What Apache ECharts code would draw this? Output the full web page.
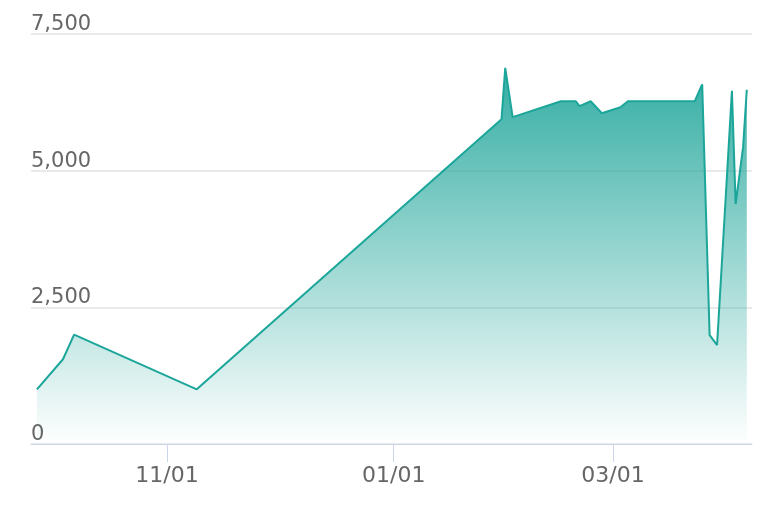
<!DOCTYPE html>
<html>
<head>
<meta charset="utf-8">
<script src="https://cdn.jsdelivr.net/npm/echarts@6/dist/echarts.min.js"></script>
<style>
html,body{margin:0;padding:0;background:#fff;}
#chart{width:778px;height:514px;}
</style>
</head>
<body>
<div id="chart"></div>
<script>
var dates = ['2022-09-27','2022-10-04','2022-10-07','2022-11-09','2023-01-30','2023-01-31','2023-02-02','2023-02-15','2023-02-19','2023-02-20','2023-02-23','2023-02-26','2023-03-03','2023-03-05','2023-03-23','2023-03-25','2023-03-27','2023-03-29','2023-04-02','2023-04-03','2023-04-05','2023-04-06'];
var values = [1000,1550,2000,1000,5940,6880,5980,6270,6270,6180,6270,6050,6160,6270,6270,6580,1990,1810,6460,4390,5430,6480];
var xTicks = ['2022-11-01','2023-01-01','2023-03-01'];
var yTicks = [0,2500,5000,7500];

var DAY = 86400000;
function ts(s){ return new Date(s + 'T00:00:00Z').getTime(); }
var seriesData = dates.map(function(d,i){ return [ts(d), values[i]]; });
var xMin = ts(dates[0]) - 1.6*DAY;
var xMax = ts(dates[dates.length-1]) + 1.4*DAY;
var tickVals = xTicks.map(ts);

var GRID_TOP = 34, GRID_BOTTOM = 70, H = 514;

var chart = echarts.init(document.getElementById('chart'), null, {renderer:'canvas'});
chart.setOption({
  animation:false,
  backgroundColor:'#ffffff',
  textStyle:{fontFamily:'DejaVu Sans'},
  grid:{left:31,right:26,top:GRID_TOP,bottom:GRID_BOTTOM,containLabel:false},
  xAxis:{
    type:'value',
    min:xMin,max:xMax,
    axisLine:{show:true,lineStyle:{color:'#ccd6eb',width:1}},
    axisTick:{show:true,length:18,lineStyle:{color:'#ccd6eb'},customValues:tickVals},
    axisLabel:{
      color:'#666666',fontSize:22,fontFamily:'DejaVu Sans',margin:21,
      customValues:tickVals,
      formatter:function(v){ var d=new Date(v); var m=d.getUTCMonth()+1, dd=d.getUTCDate(); return (m<10?'0':'')+m+'/'+(dd<10?'0':'')+dd; }
    },
    splitLine:{show:false}
  },
  yAxis:{
    type:'value',min:yTicks[0],max:yTicks[yTicks.length-1],interval:2500,
    axisLine:{show:false},axisTick:{show:false},
    axisLabel:{
      inside:true,margin:0,color:'#666666',fontSize:21,fontFamily:'DejaVu Sans',
      verticalAlign:'bottom',lineHeight:19,
      formatter:function(v){ return v.toLocaleString('en-US'); }
    },
    splitLine:{lineStyle:{color:'#e3e3e3',width:1.5}}
  },
  series:[{
    type:'line',
    data:seriesData,
    showSymbol:false,
    symbol:'none',
    lineStyle:{color:'#1ca69a',width:2},
    itemStyle:{color:'#1ca69a'},
    areaStyle:{
      opacity:1,
      color:new echarts.graphic.LinearGradient(0,GRID_TOP,0,H-GRID_BOTTOM,[
        {offset:0,color:'rgba(33,166,155,1)'},
        {offset:1,color:'rgba(33,166,155,0)'}
      ],true)
    }
  }]
});
</script>
</body>
</html>
